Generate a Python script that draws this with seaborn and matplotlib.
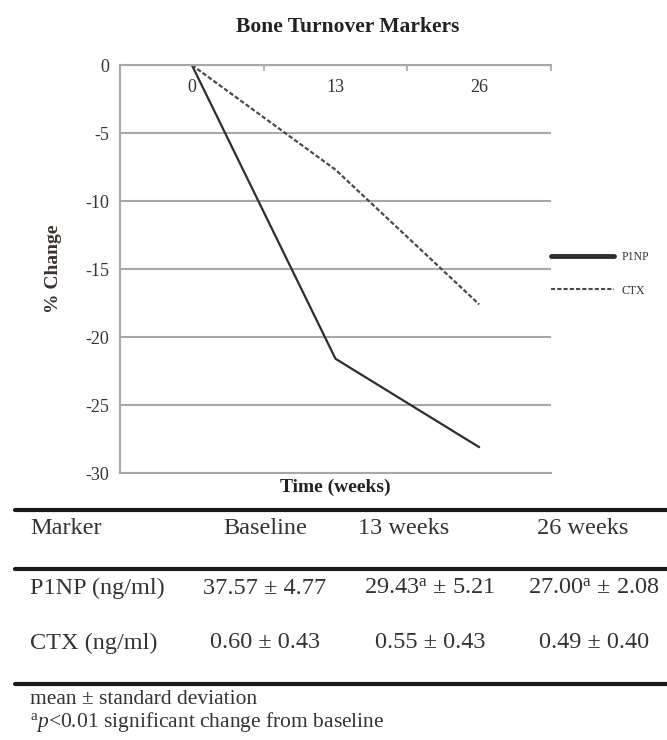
import seaborn as sns
import matplotlib.pyplot as plt
import pandas as pd
from matplotlib.lines import Line2D

# Data
weeks = ['0', '13', '26']
p1np_change = [0.0, -21.6, -28.1]
ctx_change = [0.0, -7.7, -17.6]

table_columns = ['Marker', 'Baseline', '13 weeks', '26 weeks']
table_rows = ['P1NP (ng/ml)', 'CTX (ng/ml)']
p1np_cells = ['37.57 ± 4.77', '29.43$^{\\mathrm{a}}$ ± 5.21', '27.00$^{\\mathrm{a}}$ ± 2.08']
ctx_cells = ['0.60 ± 0.43', '0.55 ± 0.43', '0.49 ± 0.40']
footnotes = ['mean ± standard deviation', '$^{\\mathrm{a}}p$<0.01 significant change from baseline']

df = pd.DataFrame({
    'Week': weeks * 2,
    'Change': p1np_change + ctx_change,
    'Marker': ['P1NP'] * 3 + ['CTX'] * 3,
})

sns.set_style("white")
plt.rcParams['font.family'] = ['Liberation Serif', 'DejaVu Serif']
plt.rcParams['axes.unicode_minus'] = False
plt.rcParams['mathtext.fontset'] = 'custom'
plt.rcParams['mathtext.rm'] = 'Liberation Serif'
plt.rcParams['mathtext.it'] = 'Liberation Serif:italic'

W, H = 667, 740
fig = plt.figure(figsize=(W / 100, H / 100), dpi=100)
ax = fig.add_axes([120 / W, 1 - 473 / H, 431 / W, 408 / H])

sns.lineplot(data=df, x='Week', y='Change', hue='Marker', style='Marker',
             palette={'P1NP': '#2e2e2e', 'CTX': '#4a4a4a'},
             dashes={'P1NP': '', 'CTX': (2, 1)},
             linewidth=1.6, ax=ax, legend=True)

ax.set_xlim(-0.5, 2.5)
ax.set_ylim(-30, 0)
ax.set_yticks(range(-30, 1, 5))
ax.yaxis.grid(True, color='#a8a8a8', linewidth=1.5)
ax.set_axisbelow(True)

ax.spines['right'].set_visible(False)
for side in ['left', 'top', 'bottom']:
    ax.spines[side].set_color('#a8a8a8')
    ax.spines[side].set_linewidth(1.5)

ax.xaxis.tick_top()
ax.set_xticks([-0.5, 0.5, 1.5, 2.5], minor=True)
ax.tick_params(axis='x', which='major', length=0, pad=-22, labelsize=13, labelcolor='#333333')
ax.tick_params(axis='x', which='minor', direction='in', length=4, color='#a8a8a8', width=1.2)
ax.tick_params(axis='y', direction='out', length=4, color='#a8a8a8', width=1.2,
               labelsize=13, labelcolor='#333333', pad=4)

ax.set_xlabel('Time (weeks)', fontsize=14, fontweight='bold', color='#222222')
ax.xaxis.set_label_coords(0.5, -0.014)
ax.set_ylabel('% Change', fontsize=14, fontweight='bold', color='#3a302c')
ax.yaxis.set_label_coords(-58 / 431, 0.5)

handles, labels = ax.get_legend_handles_labels()
ax.get_legend().remove()
leg = ax.legend(handles, labels, loc='center left',
                bbox_to_anchor=(540 / W, 1 - 274 / H), bbox_transform=fig.transFigure,
                frameon=False, fontsize=8.5, handlelength=5.4, handletextpad=0.6,
                labelspacing=1.8, labelcolor='#333333')
leg.get_lines()[0].set_linewidth(3.5)
leg.get_lines()[1].set_linewidth(1.5)

fig.text(348 / W, 1 - 27 / H, 'Bone Turnover Markers', ha='center', va='center',
         fontsize=15.5, fontweight='bold', color='#222222')

# Table below the chart
for y in [510, 569, 684]:
    fig.add_artist(Line2D([15 / W, 1], [1 - y / H, 1 - y / H], transform=fig.transFigure,
                          color='#1a1a1a', linewidth=3))

txt = dict(fontsize=17.5, color='#333333', va='center')
header_x = [30, 265, 404, 583]
cell_x = [265, 430, 594]
fig.text(header_x[0] / W, 1 - 528 / H, table_columns[0], ha='left', **txt)
for x, label in zip(header_x[1:], table_columns[1:]):
    fig.text(x / W, 1 - 528 / H, label, ha='center', **txt)

for y, name, cells in zip([588, 643], table_rows, [p1np_cells, ctx_cells]):
    fig.text(30 / W, 1 - y / H, name, ha='left', **txt)
    for x, cell in zip(cell_x, cells):
        fig.text(x / W, 1 - y / H, cell, ha='center', **txt)

note_txt = dict(txt, fontsize=15.5)
for y, note in zip([700, 722], footnotes):
    fig.text(30 / W, 1 - y / H, note, ha='left', **note_txt)

plt.savefig('out.png', dpi=100)
